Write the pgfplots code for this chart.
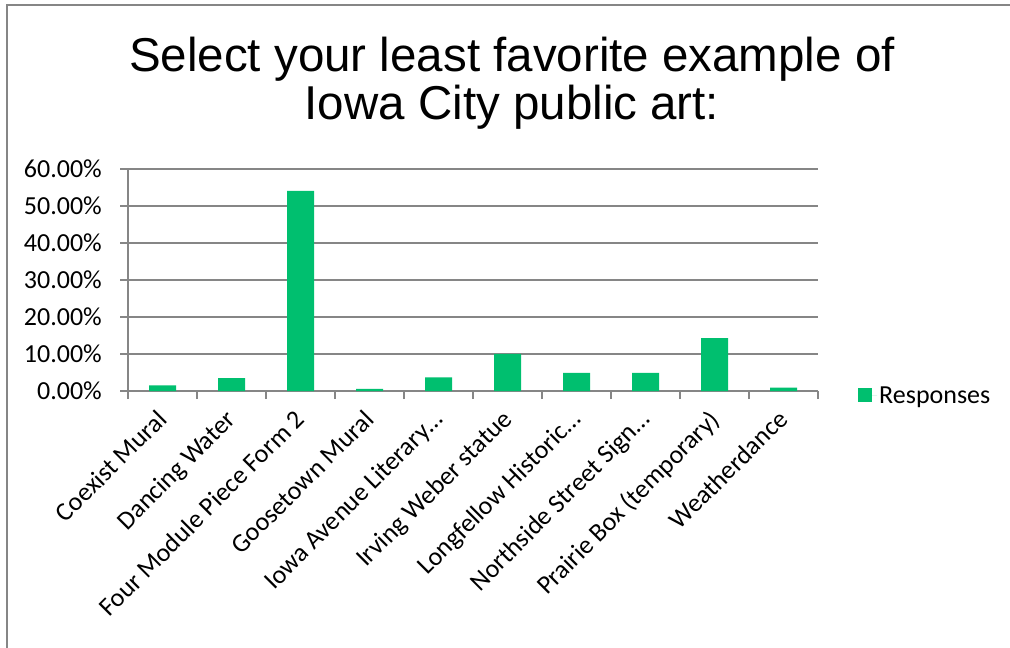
\documentclass[border=0pt]{standalone}
\usepackage{pgfplots}
\pgfplotsset{compat=1.18}
\usepackage{fontspec}
\setmainfont{Carlito}
\newfontfamily\titlefont{Liberation Sans}
\definecolor{barg}{RGB}{0,191,111}
\definecolor{gridg}{RGB}{134,134,134}
\begin{document}
\begin{tikzpicture}
\useasboundingbox (0,0) rectangle (1010bp,648bp);
\draw[gridg, line width=1.5bp] (7bp,0) -- (7bp,643bp) -- (1010bp,643bp);
\node[anchor=base, inner sep=0pt, font=\titlefont\fontsize{47.5bp}{48bp}\selectfont] at (512bp,576bp) {Select your least favorite example of};
\node[anchor=base, inner sep=0pt, font=\titlefont\fontsize{47.5bp}{48bp}\selectfont] at (512bp,528bp) {Iowa City public art:};
\begin{axis}[
  at={(128bp,257bp)}, anchor=south west,
  scale only axis, width=690bp, height=222bp,
  ybar, bar width=27bp,
  xmin=-0.5, xmax=9.5, ymin=0, ymax=60,
  axis lines*=left,
  axis line style={gridg, line width=1.5bp},
  ytick={0,10,20,30,40,50,60},
  yticklabels={0.00\%,10.00\%,20.00\%,30.00\%,40.00\%,50.00\%,60.00\%},
  ymajorgrids, grid style={gridg, line width=1.5bp},
  tick align=outside, major tick length=8bp,
  tick style={gridg, line width=1.5bp},
  xtick={-0.5,0.5,...,9.5}, xticklabels={},
  extra x ticks={0,1,2,3,4,5,6,7,8,9},
  extra x tick labels={Coexist Mural,Dancing Water,Four Module Piece Form 2,Goosetown Mural,Iowa Avenue Literary…,Irving Weber statue,Longfellow Historic…,Northside Street Sign…,Prairie Box (temporary),Weatherdance},
  extra x tick style={major tick length=0pt, grid=none, xticklabel style={xshift=-7bp, yshift=-17bp, rotate=45, anchor=north east, inner sep=0pt}},
  ticklabel style={font=\fontsize{26bp}{31bp}\selectfont},
  yticklabel style={inner sep=0pt, xshift=-18bp},
  legend style={at={(1.058,-0.02)}, anchor=west, draw=none, fill=none, inner sep=0pt, font=\fontsize{26bp}{31bp}\selectfont},
]
\addplot[fill=barg, draw=none, legend image code/.code={\fill[barg] (0bp,-7bp) rectangle (14bp,7bp); \path (0bp,0bp) -- (19bp,0bp);}] coordinates {(0,1.5) (1,3.5) (2,54.1) (3,0.6) (4,3.7) (5,10.0) (6,4.9) (7,4.9) (8,14.3) (9,0.9)};
\addlegendentry{Responses}
\end{axis}
\end{tikzpicture}
\end{document}
